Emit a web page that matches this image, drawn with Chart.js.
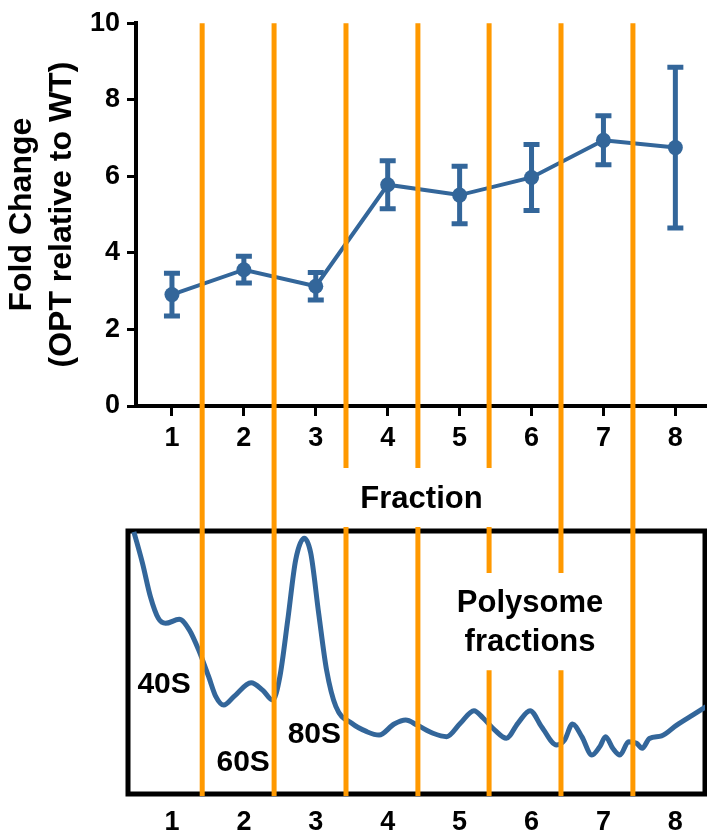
<!DOCTYPE html>
<html>
<head>
<meta charset="utf-8">
<script src="https://cdn.jsdelivr.net/npm/chart.js@4.4.1/dist/chart.umd.min.js"></script>
<style>
  html,body{margin:0;padding:0;background:#fff;overflow:hidden}
  #wrap{position:relative;width:707px;height:834px}
  .pane{position:absolute;left:0;width:707px}
</style>
</head>
<body>
<div id="wrap">
  <div class="pane" style="top:0;height:520px"><canvas id="chart-fold" width="707" height="520"></canvas></div>
  <div class="pane" style="top:520px;height:314px"><canvas id="chart-profile" width="707" height="314"></canvas></div>
</div>
<script>
// ── données ──
const FRACTIONS   = [1,2,3,4,5,6,7,8];
const FOLD_CHANGE = [2.91,3.56,3.13,5.78,5.51,5.97,6.94,6.75];
const FOLD_ERR    = [0.56,0.35,0.36,0.63,0.75,0.86,0.64,2.10];
const Y_TICKS     = [0,2,4,6,8,10];

// limites de fractions (lignes orange)
const BOUNDARIES  = [1.42,2.42,3.42,4.42,5.41,6.41,7.41];
// bas de chaque ligne dans le graphe du haut (unités Fold Change)
const FOLD_LINE_END = [-3.5,-3.5,-1.62,-1.62,-1.62,-3.5,-3.5];
// segments dans le profil (unités d'absorbance relative 0-100)
const PROFILE_LINE_SEGS = [
  [[106,-0.8]],
  [[106,-0.8]],
  [[101.5,-0.8]],
  [[101.5,-0.8]],
  [[101.5,84],[47.1,-0.8]],
  [[106,84],[47.1,-0.8]],
  [[106,-0.8]]
];

// profil polysomal
const TRACE_X = [0.47,0.59,0.70,0.81,0.91,1.10,1.24,1.37,1.51,1.61,1.72,1.86,2.10,2.26,2.40,2.50,2.61,2.72,2.84,2.93,
                 3.04,3.15,3.28,3.50,3.71,3.88,4.09,4.25,4.41,4.63,4.82,5.01,5.20,5.33,5.49,5.65,5.81,5.98,6.14,6.35,
                 6.46,6.57,6.70,6.84,6.95,7.03,7.13,7.23,7.35,7.46,7.54,7.64,7.81,8.02,8.24,8.43];
const TRACE_Y = [99.7,87.7,75.0,66.8,64.9,66.4,62.4,54.8,44.6,37.0,33.8,37.0,42.3,39.5,35.7,44.6,66.2,89.0,97.2,91.5,
                 68.7,47.1,33.2,26.9,23.7,22.4,26.6,28.1,26.2,23.1,21.8,26.9,31.7,28.8,24.3,21.2,26.9,31.7,25.6,18.6,
                 20.5,26.6,21.8,14.8,18.0,21.8,17.4,14.8,19.9,19.3,17.4,21.1,22.1,26.2,30.0,33.2];

const PEAK_LABELS = [
  {text:'40S', x:0.89, y:41.4},
  {text:'60S', x:1.99, y:11.8},
  {text:'80S', x:2.98, y:22.4}
];
const POLY_LABEL = {lines:['Polysome','fractions'], x:5.98, y:[72.6,57.8]};

const BLUE = '#33669a';
const ORANGE = '#ff9900';
const FONT = '"Liberation Sans", Arial, sans-serif';

Chart.defaults.font.family = FONT;
Chart.defaults.color = '#000';

function dividerSets(segsFor){
  return BOUNDARIES.map((b,i)=>{
    const data=[];
    segsFor(i).forEach((s,k)=>{
      if(k) data.push({x:b,y:null});
      data.push({x:b,y:s[0]},{x:b,y:s[1]});
    });
    return {
      type:'line', data, borderColor:ORANGE, borderWidth:5, pointRadius:0,
      spanGaps:false, clip:false, order:0, borderCapStyle:'butt'
    };
  });
}

// ── barres d'erreur ──
const errorBars = {
  id:'errorBars',
  beforeDatasetsDraw(chart){
    const {ctx, scales:{x,y}} = chart;
    ctx.save();
    ctx.strokeStyle = BLUE;
    ctx.lineWidth = 5;
    FRACTIONS.forEach((f,i)=>{
      const px = x.getPixelForValue(f);
      const hi = y.getPixelForValue(FOLD_CHANGE[i]+FOLD_ERR[i]);
      const lo = y.getPixelForValue(FOLD_CHANGE[i]-FOLD_ERR[i]);
      ctx.beginPath();
      ctx.moveTo(px,hi); ctx.lineTo(px,lo);
      ctx.moveTo(px-8,hi); ctx.lineTo(px+8,hi);
      ctx.moveTo(px-8,lo); ctx.lineTo(px+8,lo);
      ctx.stroke();
    });
    ctx.restore();
  }
};

new Chart(document.getElementById('chart-fold'), {
  type:'line',
  data:{
    datasets:[
      ...dividerSets(i=>[[10,FOLD_LINE_END[i]]]),
      {
        data: FRACTIONS.map((f,i)=>({x:f,y:FOLD_CHANGE[i]})),
        borderColor:BLUE, backgroundColor:BLUE, borderWidth:4,
        pointRadius:7.5, pointBackgroundColor:BLUE, pointBorderWidth:0,
        tension:0, order:1
      }
    ]
  },
  options:{
    responsive:false, animation:false,
    layout:{ autoPadding:false, padding:{ top:22, left:0, right:0, bottom:0 } },
    plugins:{ legend:{display:false}, tooltip:{enabled:false} },
    scales:{
      x:{
        type:'linear', min:0.5, max:8.44,
        afterBuildTicks: s => { s.ticks = FRACTIONS.map(v=>({value:v})); },
        afterFit: s => { s.height = 114; },
        ticks:{ font:{size:27, weight:'bold'}, padding:6, color:'#000' },
        grid:{ drawOnChartArea:false, color:'#000', lineWidth:3, tickLength:10 },
        border:{ display:true, color:'#000', width:4 },
        title:{ display:true, text:'Fraction', font:{size:31, weight:'bold', lineHeight:1.2}, padding:{top:0,bottom:2}, color:'#000' }
      },
      y:{
        min:0, max:10,
        afterBuildTicks: s => { s.ticks = Y_TICKS.map(v=>({value:v})); },
        afterFit: s => { s.width = 136; },
        ticks:{ font:{size:27, weight:'bold'}, padding:7, color:'#000' },
        grid:{ drawOnChartArea:false, color:'#000', lineWidth:3, tickLength:9 },
        border:{ display:true, color:'#000', width:4 },
        title:{ display:true, text:['Fold Change','(OPT relative to WT)'], font:{size:32, weight:'bold', lineHeight:1.25}, padding:{top:2,bottom:0}, color:'#000' }
      }
    }
  },
  plugins:[errorBars]
});

// ── profil ──
const profileBox = {
  id:'profileBox',
  beforeDatasetsDraw(chart){
    const {ctx, chartArea:{left,top,right,bottom}, scales:{x,y}} = chart;
    ctx.save();
    ctx.strokeStyle = '#000';
    ctx.lineWidth = 5;
    ctx.strokeRect(left, top, right-left, bottom-top);
    ctx.fillStyle = '#000';
    ctx.textAlign = 'center';
    ctx.textBaseline = 'middle';
    ctx.font = 'bold 30px ' + FONT;
    PEAK_LABELS.forEach(l=>ctx.fillText(l.text, x.getPixelForValue(l.x), y.getPixelForValue(l.y)));
    ctx.font = 'bold 31px ' + FONT;
    POLY_LABEL.lines.forEach((t,i)=>ctx.fillText(t, x.getPixelForValue(POLY_LABEL.x), y.getPixelForValue(POLY_LABEL.y[i])));
    ctx.restore();
  }
};

new Chart(document.getElementById('chart-profile'), {
  type:'line',
  data:{
    datasets:[
      ...dividerSets(i=>PROFILE_LINE_SEGS[i]),
      {
        data: TRACE_X.map((v,i)=>({x:v,y:TRACE_Y[i]})),
        borderColor:BLUE, borderWidth:5, pointRadius:0,
        cubicInterpolationMode:'monotone', order:1
      }
    ]
  },
  options:{
    responsive:false, animation:false,
    layout:{ autoPadding:false, padding:{ top:11, left:128, right:2, bottom:0 } },
    plugins:{ legend:{display:false}, tooltip:{enabled:false} },
    scales:{
      x:{
        type:'linear', min:0.388, max:8.413,
        afterBuildTicks: s => { s.ticks = FRACTIONS.map(v=>({value:v})); },
        afterFit: s => { s.height = 40; },
        ticks:{ font:{size:27, weight:'bold'}, padding:12, color:'#000' },
        grid:{ display:false, drawTicks:false },
        border:{ display:false }
      },
      y:{ display:false, min:0, max:100 }
    }
  },
  plugins:[profileBox]
});
</script>
</body>
</html>
